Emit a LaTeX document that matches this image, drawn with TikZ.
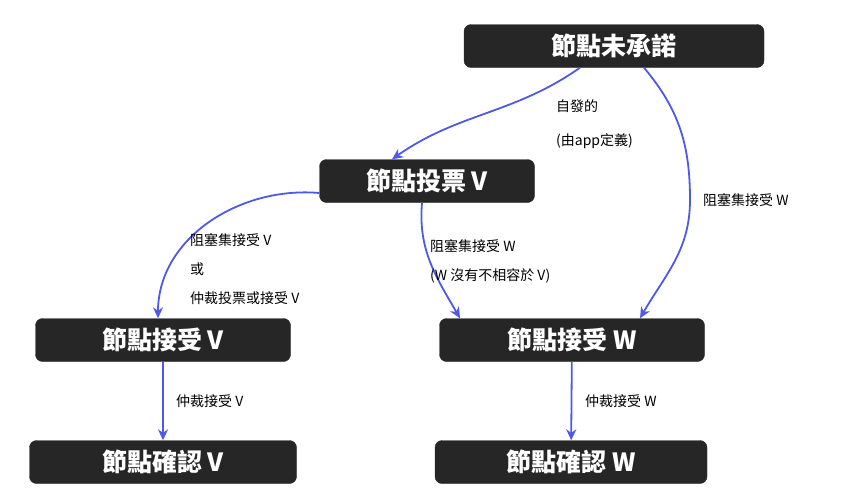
\documentclass[tikz,border=0pt]{standalone}
\usepackage{fontspec}
\setmainfont{Noto Sans CJK TC}
\usetikzlibrary{positioning,arrows.meta}
\definecolor{boxdark}{HTML}{262626}
\definecolor{edgeblue}{HTML}{5058E8}
\tikzset{
	state/.style = {draw=boxdark, fill=boxdark, rounded corners=7pt, text=white, font=\fontsize{25}{28}\selectfont\bfseries, minimum height=43pt, inner sep=0pt},
	flow/.style = {draw=edgeblue, line width=1.8pt, -{Stealth[length=11pt,width=10pt]}},
	lbl/.style = {font=\fontsize{14}{16}\selectfont, anchor=west, inner sep=0pt}
}
\begin{document}
\begin{tikzpicture}[x=1pt, y=-1pt]
	\useasboundingbox (0,0) rectangle (860,501);
	
	% states
	\node[state, minimum width=300pt] (uncommitted) at (614,46) {節點未承諾};
	\node[state, minimum width=215pt] (voteV) at (427,181) {節點投票 V};
	\node[state, minimum width=255pt] (acceptV) at (163,340) {節點接受 V};
	\node[state, minimum width=265pt] (acceptW) at (572,340) {節點接受 W};
	\node[state, minimum width=267pt] (confirmV) at (163,462) {節點確認 V};
	\node[state, minimum width=272pt] (confirmW) at (571,462) {節點確認 W};
	
	% transitions
	\draw[flow] ([xshift=-34pt]uncommitted.south) to[out=-145, in=35] ([xshift=-35pt]voteV.north);
	\draw[flow] ([xshift=30pt]uncommitted.south) to[out=-50, in=90] (690,200) to[out=-90, in=60] ([xshift=68pt]acceptW.north);
	\draw[flow] ([yshift=-12pt]voteV.west) to[out=175, in=90] ([xshift=-5pt]acceptV.north);
	\draw[flow] ([xshift=-5pt]voteV.south) to[out=-95, in=120] ([xshift=-112pt]acceptW.north);
	\draw[flow] (acceptV) -- (confirmV);
	\draw[flow] (acceptW) -- (confirmW);
	
	% labels
	\node[lbl] (l1) at (556,106) {自發的};
	\node[lbl] (l2) at (556,141) {(由app定義)};
	\node[lbl] (l3) at (703,200) {阻塞集接受 W};
	\node[lbl] (l4) at (190,240) {阻塞集接受 V};
	\node[lbl] (l5) at (190,269) {或};
	\node[lbl] (l6) at (190,298) {仲裁投票或接受 V};
	\node[lbl] (l7) at (430,246) {阻塞集接受 W};
	\node[lbl] (l8) at (430,276) {(W 沒有不相容於 V)};
	\node[lbl] (l9) at (176,401) {仲裁接受 V};
	\node[lbl] (l10) at (585,401) {仲裁接受 W};
\end{tikzpicture}
\end{document}
